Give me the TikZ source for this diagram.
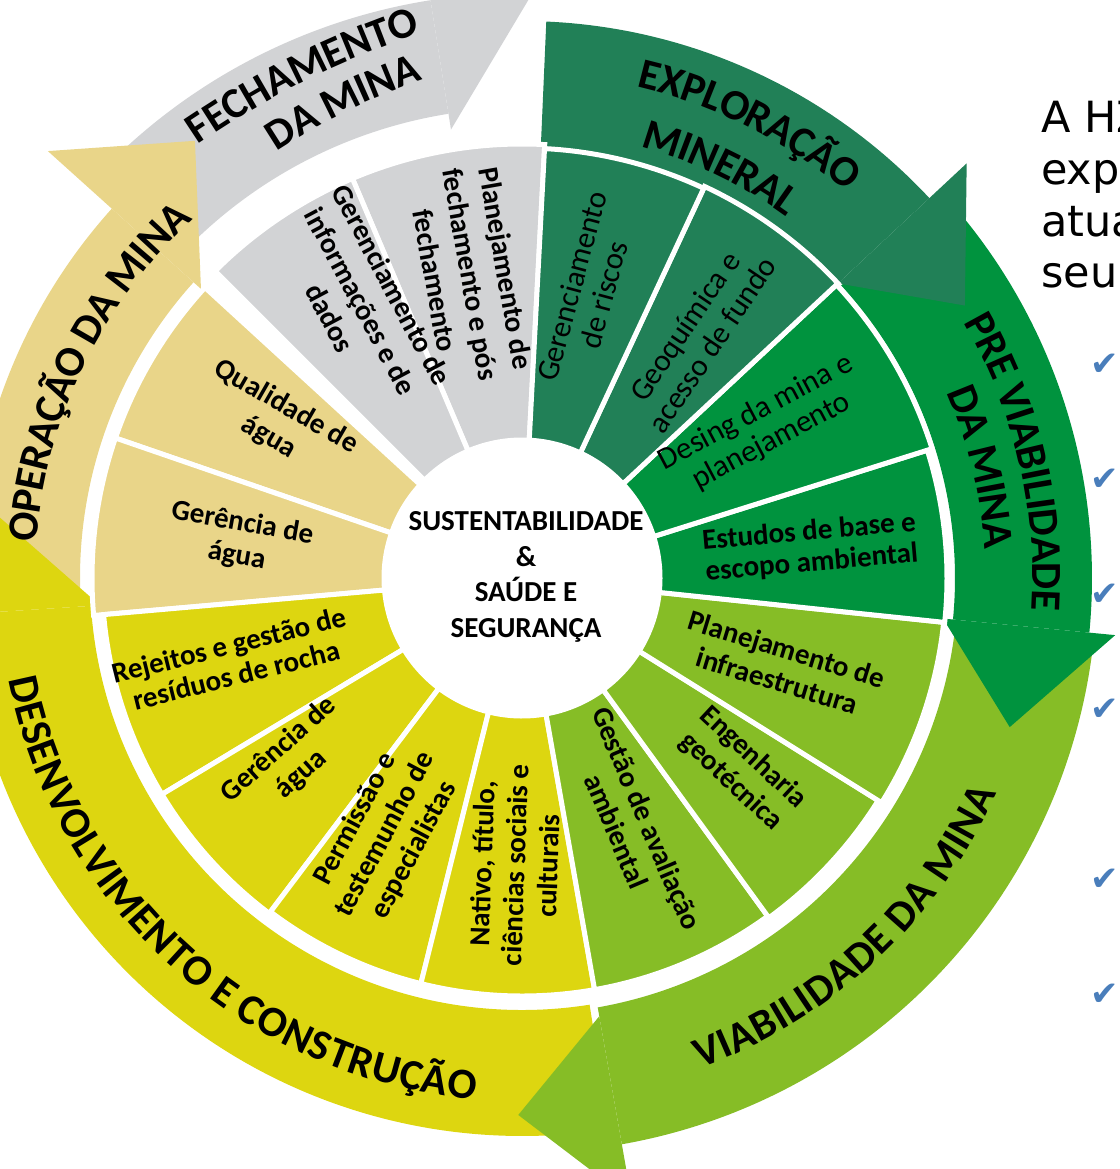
\documentclass[tikz,border=0pt]{standalone}
\usepackage{fontspec}
\setmainfont{Carlito}
\newfontfamily\verdanafont{DejaVu Sans}
\usetikzlibrary{decorations.text}

\definecolor{gris}{RGB}{210,211,213}
\definecolor{areia}{RGB}{233,213,137}
\definecolor{amarelo}{RGB}{221,214,16}
\definecolor{verdeclaro}{RGB}{134,189,38}
\definecolor{verde}{RGB}{0,147,62}
\definecolor{verdeescuro}{RGB}{33,128,87}
\definecolor{azulcheck}{RGB}{74,126,187}

\newcommand{\anelfont}{\fontsize{43}{43}\selectfont\bfseries}
% faixa do anel: cor, angulo inicial, angulo final, raio interno, raio externo
\newcommand{\faixa}[5]{\fill[#1] (#2:#4) arc[start angle=#2, end angle=#3, radius=#4] -- (#3:#5) arc[start angle=#3, end angle=#2, radius=#5] -- cycle;}
% ponta da seta: cor, angulo da base, raio interno, raio externo, angulo da ponta, raio da ponta
\newcommand{\ponta}[6]{\fill[#1] (#2:#3) -- (#5:#6) -- (#2:#4) -- cycle;}
% fatia do circulo: cor, angulo inicial, angulo final, raio externo
\newcommand{\fatia}[4]{\filldraw[fill=#1, draw=white, line width=5pt] (#2:138) arc[start angle=#2, end angle=#3, radius=138] -- (#3:#4) arc[start angle=#3, end angle=#2, radius=#4] -- cycle;}

\begin{document}
\begin{tikzpicture}[x=1pt, y=1pt]
        \tikzstyle{rotulo}=[align=center, inner sep=0pt, font=\fontsize{29}{33}\selectfont\bfseries]
        \tikzstyle{rotulofino}=[rotulo, font=\fontsize{31}{33}\selectfont\mdseries]
        \tikzstyle{anel}=[decorate, decoration={text along path, text align=center, raise=-13.5pt}]
        \tikzstyle{check}=[text=azulcheck, inner sep=0pt, font=\verdanafont\fontsize{34}{34}\selectfont]
        \tikzstyle{lateral}=[anchor=base west, inner sep=0pt, font=\verdanafont\fontsize{43}{43}\selectfont]

        \useasboundingbox (0,0) rectangle (1119,-1169);
        \clip (0,0) rectangle (1119,-1169);

        \begin{scope}[shift={(522,-578)}]
        % anel externo
        \faixa{areia}{183}{138}{442}{552}
        \faixa{gris}{137}{99}{470}{585}
        \faixa{verdeescuro}{87.5}{43}{432}{557}
        \faixa{verde}{42.5}{-5.5}{433}{570}
        \faixa{verdeclaro}{-7}{-80}{436}{575}
        \faixa{amarelo}{-81}{-176.3}{432}{558}

        \ponta{areia}{138}{432}{638}{126.8}{546}
        \ponta{gris}{99}{454}{700}{88}{603}
        \ponta{verdeescuro}{43}{432}{608}{31.6}{520}
        \ponta{verde}{-5.5}{423}{596}{-17}{510}
        \ponta{verdeclaro}{-80}{445}{633}{-90.4}{537}
        \ponta{amarelo}{-176.3}{423}{660}{-188}{545}

        % fatias
        \fatia{gris}{87}{113}{434}
        \fatia{gris}{113}{135}{434}
        \fatia{areia}{137.5}{161}{430}
        \fatia{areia}{161}{185}{430}
        \fatia{amarelo}{185}{211}{420}
        \fatia{amarelo}{211}{233}{420}
        \fatia{amarelo}{233}{256}{418}
        \fatia{amarelo}{256}{280}{418}
        \fatia{verdeclaro}{280}{306}{418}
        \fatia{verdeclaro}{306}{328}{420}
        \fatia{verdeclaro}{328}{354}{424}
        \fatia{verde}{-6}{17.5}{425}
        \fatia{verde}{17.5}{43}{430}
        \fatia{verdeescuro}{43}{65}{432}
        \fatia{verdeescuro}{65}{87}{430}

        \fill[white] (0,0) circle (138);

        \node[align=center, font=\fontsize{29}{35.5}\selectfont\bfseries] (centro) at (4,1) {SUSTENTABILIDADE\\\&\\SAÚDE E\\SEGURANÇA};

        \node[rotulo, rotate=-80, font=\fontsize{29}{36}\selectfont\bfseries] (planfech) at (99.6:308) {Planejamento de\\fechamento e pós\\fechamento};
        \node[rotulo, rotate=-62, font=\fontsize{29}{35}\selectfont\bfseries] (gerinfo) at (120.2:320) {Gerenciamento de\\informações e de\\dados};
        \node[rotulo, rotate=-30, font=\fontsize{29}{35}\selectfont\bfseries] (qualagua) at (147.5:290) {Qualidade de\\água};
        \node[rotulo, rotate=-10] (geragua) at (172.3:285) {Gerência de\\água};
        \node[rotulo, rotate=14, font=\fontsize{29}{31}\selectfont\bfseries] (rejeitos) at (195.8:301) {Rejeitos e gestão de\\resíduos de rocha};
        \node[rotulo, rotate=42] (geraguab) at (218.4:296) {Gerência de\\água};
        \node[rotulo, rotate=62] (permissao) at (241.9:291) {Permissão e\\testemunho de\\especialistas};
        \node[rotulo, rotate=88] (nativo) at (268.6:287) {Nativo, título,\\ciências sociais e\\culturais};
        \node[rotulo, rotate=-67] (gestao) at (294:270) {Gestão de avaliação\\ambiental};
        \node[rotulo, rotate=-43] (engenharia) at (318.9:292) {Engenharia\\geotécnica};
        \node[rotulo, rotate=-17] (planinfra) at (341.5:274) {Planejamento de\\infraestrutura};
        \node[rotulo, rotate=5, font=\fontsize{29}{31}\selectfont\bfseries] (estudos) at (6:290) {Estudos de base e\\escopo ambiental};
        \node[rotulofino, rotate=28] (desing) at (32:285) {Desing da mina e\\planejamento};
        \node[rotulofino, rotate=56] (geoquimica) at (54:300) {Geoquímica e\\acesso de fundo};
        \node[rotulofino, rotate=75] (gerriscos) at (77.1:295) {Gerenciamento\\de riscos};

        % textos do anel
        \path[anel, decoration={text={|\anelfont|EXPLORAÇÃO}}] (88:518) arc[start angle=88, end angle=38.8, radius=518];
        \path[anel, decoration={text={|\anelfont|MINERAL}}] (88:461) arc[start angle=88, end angle=40.4, radius=461];
        \path[anel, decoration={text={|\anelfont|PRE VIABILIDADE}}] (45:524) arc[start angle=45, end angle=-18.5, radius=524];
        \path[anel, decoration={text={|\anelfont|DA MINA}}] (40:477) arc[start angle=40, end angle=-12.8, radius=477];
        \path[anel, decoration={text={|\anelfont|VIABILIDADE DA MINA}}] (-85:508) arc[start angle=-85, end angle=-9.4, radius=508];
        \path[anel, decoration={text={|\anelfont|DESENVOLVIMENTO E CONSTRUÇÃO}}] (175:510) arc[start angle=175, end angle=281, radius=510];
        \path[anel, decoration={text={|\anelfont|OPERAÇÃO DA MINA}}] (190:500) arc[start angle=190, end angle=118.4, radius=500];
        \path[anel, decoration={text={|\anelfont|FECHAMENTO}}] (-353,430) to[bend left=8] (-81,566);
        \path[anel, decoration={text={|\anelfont|DA MINA}}] (-274,423) to[bend left=8] (-79,519);
        \end{scope}

        % texto lateral cortado
        \node[lateral] (ladoa) at (1041,-133) {A HZ};
        \node[lateral] (ladob) at (1041,-185) {expe};
        \node[lateral] (ladoc) at (1041,-236) {atua};
        \node[lateral] (ladod) at (1041,-287) {seu};

        \foreach \yc [count=\i] in {365,480,595,710,880,995}
            \node[check] (ok\i) at (1105,-\yc) {✔};
\end{tikzpicture}
\end{document}
